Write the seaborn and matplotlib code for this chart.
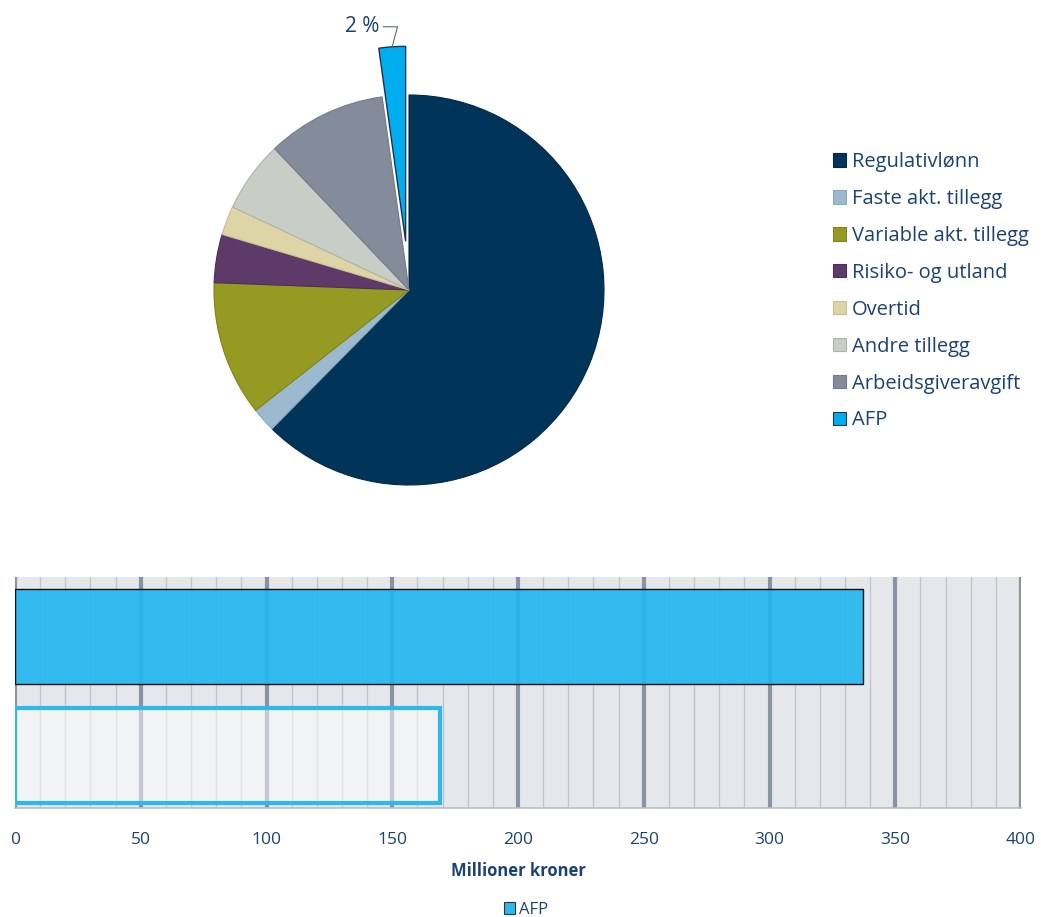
import matplotlib
matplotlib.use("Agg")
import matplotlib.pyplot as plt
from matplotlib.patches import Patch
import seaborn as sns
import pandas as pd
import numpy as np

# Cost components (percent of total)
components = ["Regulativlønn", "Faste akt. tillegg", "Variable akt. tillegg",
              "Risiko- og utland", "Overtid", "Andre tillegg",
              "Arbeidsgiveravgift", "AFP"]
shares = [62.4, 2.0, 11.2, 4.0, 2.4, 5.9, 9.9, 2.2]
colors = ["#003459", "#9BBAD0", "#959B22", "#5E3A6B", "#DDD5A6",
          "#C8CDC6", "#848B9B", "#00AEEF"]
edges = ["#00284a", "#8aa9bf", "#7f8418", "#4e2f5a", "#c9c092",
         "#aeb3ac", "#737a8a", "#1a3550"]

# AFP amounts, million NOK
afp_rows = ["1", "2"]
afp_values = [337, 169]
x_ticks = [0, 50, 100, 150, 200, 250, 300, 350, 400]

TEXT = "#1B4372"

sns.set_theme(style="white")
plt.rcParams["font.family"] = ["Open Sans", "DejaVu Sans"]

fig = plt.figure(figsize=(10.41, 9.17), dpi=100)

# ---------- Pie ----------
W, H = 1041, 917
cx, cy, r = 409, 290, 195
ax_pie = fig.add_axes([(cx - r) / W, (H - cy - r) / H, 2 * r / W, 2 * r / H])
explode = [0, 0, 0, 0, 0, 0, 0, 0.25]
wedges, _ = ax_pie.pie(shares, colors=colors, startangle=90, counterclock=False,
                       explode=explode, radius=1.0,
                       wedgeprops=dict(linewidth=0.8))
for w, ec in zip(wedges, edges):
    w.set_edgecolor(ec)
wedges[-1].set_linewidth(1.0)
ax_pie.set_xlim(-1, 1)
ax_pie.set_ylim(-1, 1)
ax_pie.set_aspect("equal")
ax_pie.axis("off")
for w in wedges:
    w.set_clip_on(False)

# Percent label for AFP with leader line
afp_mid = 90 - (sum(shares[:-1]) + shares[-1] / 2) / 100 * 360
theta = np.deg2rad(afp_mid)
tip = ((1 + explode[-1]) * np.cos(theta), (1 + explode[-1]) * np.sin(theta))
ax_pie.annotate(f"{round(shares[-1]):d} %", xy=tip, xytext=(-0.15, 1.35),
                ha="right", va="center", fontsize=15, color=TEXT,
                annotation_clip=False,
                arrowprops=dict(arrowstyle="-", color="#5a6a80", lw=0.8,
                                connectionstyle="angle,angleA=0,angleB=75,rad=0",
                                shrinkA=0, shrinkB=0))

handles = [Patch(facecolor=c, edgecolor=e, linewidth=0.8) for c, e in zip(colors, edges)]
fig.legend(handles, components, loc="upper left", bbox_to_anchor=(823 / W, 1 - 142 / H),
           frameon=False, fontsize=14.5, labelcolor=TEXT, handlelength=0.65,
           handleheight=0.65, handletextpad=0.3, labelspacing=0.84, borderpad=0)

# ---------- Bars ----------
ax = fig.add_axes([15 / W, (H - 808) / H, 1006 / W, 231 / H])
ax.set_facecolor("#E6E7EB")
df = pd.DataFrame({"row": afp_rows, "value": afp_values})
sns.barplot(data=df, x="value", y="row", orient="h", ax=ax, width=0.8,
            color="#2DB9EE", zorder=2)
bars = ax.patches
bars[0].set_facecolor((0.14, 0.72, 0.94, 0.92))
bars[0].set_edgecolor("#111111")
bars[0].set_linewidth(1.0)
bars[1].set_facecolor((1, 1, 1, 0.5))
bars[1].set_edgecolor("#2DB9EE")
bars[1].set_linewidth(3.0)

for v in range(0, 401, 10):
    if v % 50:
        ax.axvline(v, color="#C2C5CD", lw=1.0, zorder=1)
    else:
        ax.axvline(v, color="#8A92A4", lw=3.0, zorder=1)

ax.set_xlim(0, 400)
ax.set_ylim(1.44, -0.5)
ax.set_xticks(x_ticks)
ax.set_xticklabels([str(t) for t in x_ticks], color=TEXT, fontsize=12.5)
ax.set_yticks([])
ax.set_ylabel("")
ax.set_xlabel("Millioner kroner", color=TEXT, fontsize=12, fontweight="bold", labelpad=10)
ax.tick_params(axis="x", direction="out", length=5, width=1, color="#B8BCC6", pad=12)
for s in ["top", "right", "left"]:
    ax.spines[s].set_visible(False)
ax.spines["bottom"].set_color("#B8BCC6")
ax.spines["bottom"].set_linewidth(1.2)

fig.legend([Patch(facecolor="#2DB9EE", edgecolor="#333333", linewidth=0.8)], ["AFP"],
           loc="center", bbox_to_anchor=(0.505, 1 - 910 / H), frameon=False,
           fontsize=12, labelcolor=TEXT, handlelength=0.7, handleheight=0.7,
           handletextpad=0.2)

fig.savefig("out.png", dpi=100)
